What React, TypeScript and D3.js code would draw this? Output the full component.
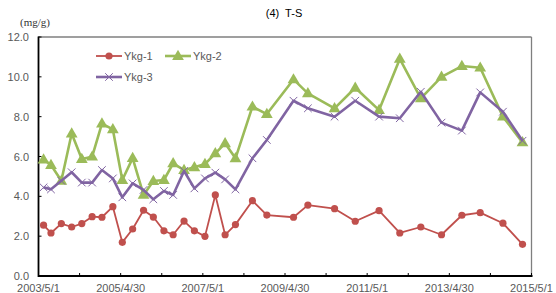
import * as d3 from "d3";

// sampling dates (shared by all three stations)
const dates = [
  "2003-06-15", "2003-08-20", "2003-11-20", "2004-02-20", "2004-05-20", "2004-08-20",
  "2004-11-15", "2005-02-20", "2005-05-15", "2005-08-15", "2005-11-20", "2006-02-15",
  "2006-05-20", "2006-08-10", "2006-11-15", "2007-02-15", "2007-05-20", "2007-08-20",
  "2007-11-15", "2008-02-15", "2008-07-15", "2008-11-20", "2009-07-15", "2009-11-20",
  "2010-07-15", "2011-01-15", "2011-08-15", "2012-02-15", "2012-08-20", "2013-02-20",
  "2013-08-20", "2014-01-30", "2014-08-20", "2015-02-10",
];

const ykg1 = [
  2.55, 2.16, 2.63, 2.46, 2.63, 2.98, 2.95, 3.48, 1.69, 2.36, 3.3, 2.96,
  2.27, 2.07, 2.76, 2.27, 1.99, 4.07, 2.07, 2.58, 3.78, 3.06, 2.95, 3.56,
  3.38, 2.75, 3.28, 2.16, 2.46, 2.07, 3.05, 3.18, 2.65, 1.59,
];

const ykg2 = [
  5.85, 5.57, 4.78, 7.15, 5.87, 5.99, 7.65, 7.36, 4.82, 5.92, 4.07, 4.77,
  4.82, 5.66, 5.32, 5.46, 5.62, 6.16, 6.66, 5.91, 8.5, 8.13, 9.87, 9.17,
  8.42, 9.45, 8.33, 10.9, 8.92, 10.0, 10.54, 10.46, 8.0, 6.71,
];

const ykg3 = [
  4.45, 4.35, 4.78, 5.21, 4.69, 4.69, 5.32, 4.9, 3.95, 4.65, 4.32, 3.85,
  4.27, 4.07, 5.27, 4.4, 4.9, 5.19, 4.85, 4.35, 5.91, 6.83, 8.8, 8.42,
  8.0, 8.8, 8.0, 7.92, 9.25, 7.7, 7.3, 9.22, 8.25, 6.79,
];

const yTicks = [0, 2, 4, 6, 8, 10, 12];
const xLabels = ["2003/5/1", "2005/4/30", "2007/5/1", "2009/4/30", "2011/5/1", "2013/4/30", "2015/5/1"];

const parse = d3.timeParse("%Y-%m-%d");

export default function App() {
  const W = 556;
  const H = 293;
  const left = 38.5;
  const right = 531.5;
  const top = 37;
  const bottom = 276;

  const x = d3
    .scaleTime()
    .domain([parse("2003-05-01")!, parse("2015-05-01")!])
    .range([left, right]);
  const y = d3.scaleLinear().domain([0, 12]).range([bottom, top]);

  // ticks every year, labelled every 2 years
  const yearTicks = d3.range(0, 13).map((i) => left + ((right - left) * i) / 12);

  const pts = (vals: number[]) => dates.map((d, i) => [x(parse(d)!), y(vals[i])] as [number, number]);
  const line = d3.line();

  const series = [
    { name: "Ykg-1", vals: ykg1, color: "#C0504D", width: 1.8, marker: "circle" },
    { name: "Ykg-2", vals: ykg2, color: "#9BBB59", width: 2.6, marker: "triangle" },
    { name: "Ykg-3", vals: ykg3, color: "#8064A2", width: 2.6, marker: "x" },
  ];

  const tri = d3.symbol(d3.symbolTriangle, 60)()!;

  const marker = (kind: string, color: string, cx: number, cy: number, key: number | string) => {
    if (kind === "circle") return <circle key={key} cx={cx} cy={cy} r={3.6} fill={color} />;
    if (kind === "triangle")
      return <path key={key} d={tri} transform={`translate(${cx},${cy + 0.5})`} fill={color} />;
    const s = 3.8;
    return (
      <path
        key={key}
        d={`M${cx - s},${cy - s}L${cx + s},${cy + s}M${cx - s},${cy + s}L${cx + s},${cy - s}`}
        stroke={color}
        strokeWidth={1}
        fill="none"
      />
    );
  };

  const legend = [
    { s: series[0], lx: 96, ly: 56 },
    { s: series[1], lx: 165, ly: 56 },
    { s: series[2], lx: 96, ly: 77 },
  ];

  const font = "'Liberation Sans', Arial, sans-serif";

  return (
    <svg width={W} height={H} style={{ position: "absolute", left: 0, top: 0 }} fontFamily={font}>
      <rect width={W} height={H} fill="#fff" />
      <text x={284} y={17} fontSize={11} textAnchor="middle" fill="#000" style={{ whiteSpace: "pre" }}>
        (4)  T-S
      </text>
      <text x={20} y={26} fontSize={11} fontFamily="'Liberation Serif', serif" fill="#333">
        (mg/g)
      </text>

      {/* plot border */}
      <line x1={left} y1={top} x2={right} y2={top} stroke="#7f7f7f" strokeWidth={1.3} />
      <line x1={right} y1={top} x2={right} y2={bottom} stroke="#7f7f7f" strokeWidth={1.3} />

      {/* y axis */}
      {yTicks.map((t) => (
        <g key={t}>
          <line x1={left} x2={left + 3} y1={y(t)} y2={y(t)} stroke="#000" />
          <text x={29} y={y(t) + 4} fontSize={11} textAnchor="end" fill="#595959">
            {t.toFixed(1)}
          </text>
        </g>
      ))}
      {/* x axis */}
      {yearTicks.map((px, i) => (
        <line key={i} x1={px} x2={px} y1={bottom} y2={bottom - 3} stroke="#000" />
      ))}
      {xLabels.map((l, i) => (
        <text key={l} x={yearTicks[i * 2]} y={292} fontSize={11} textAnchor="middle" fill="#595959">
          {l}
        </text>
      ))}
      <line x1={left} y1={top - 0.5} x2={left} y2={bottom + 1} stroke="#000" strokeWidth={1.8} />
      <line x1={left} y1={bottom} x2={right + 1} y2={bottom} stroke="#000" strokeWidth={1.8} />

      {/* series */}
      {series.map((s) => {
        const p = pts(s.vals);
        return (
          <g key={s.name}>
            <path d={line(p)!} fill="none" stroke={s.color} strokeWidth={s.width} strokeLinejoin="round" />
            {p.map((q, i) => marker(s.marker, s.color, q[0], q[1], i))}
          </g>
        );
      })}

      {/* legend */}
      {legend.map(({ s, lx, ly }) => (
        <g key={s.name}>
          <line x1={lx} x2={lx + 26} y1={ly} y2={ly} stroke={s.color} strokeWidth={s.width} />
          {marker(s.marker, s.color, lx + 13, ly, "m")}
          <text x={lx + 28} y={ly + 4} fontSize={11} fill="#595959">
            {s.name}
          </text>
        </g>
      ))}
    </svg>
  );
}
